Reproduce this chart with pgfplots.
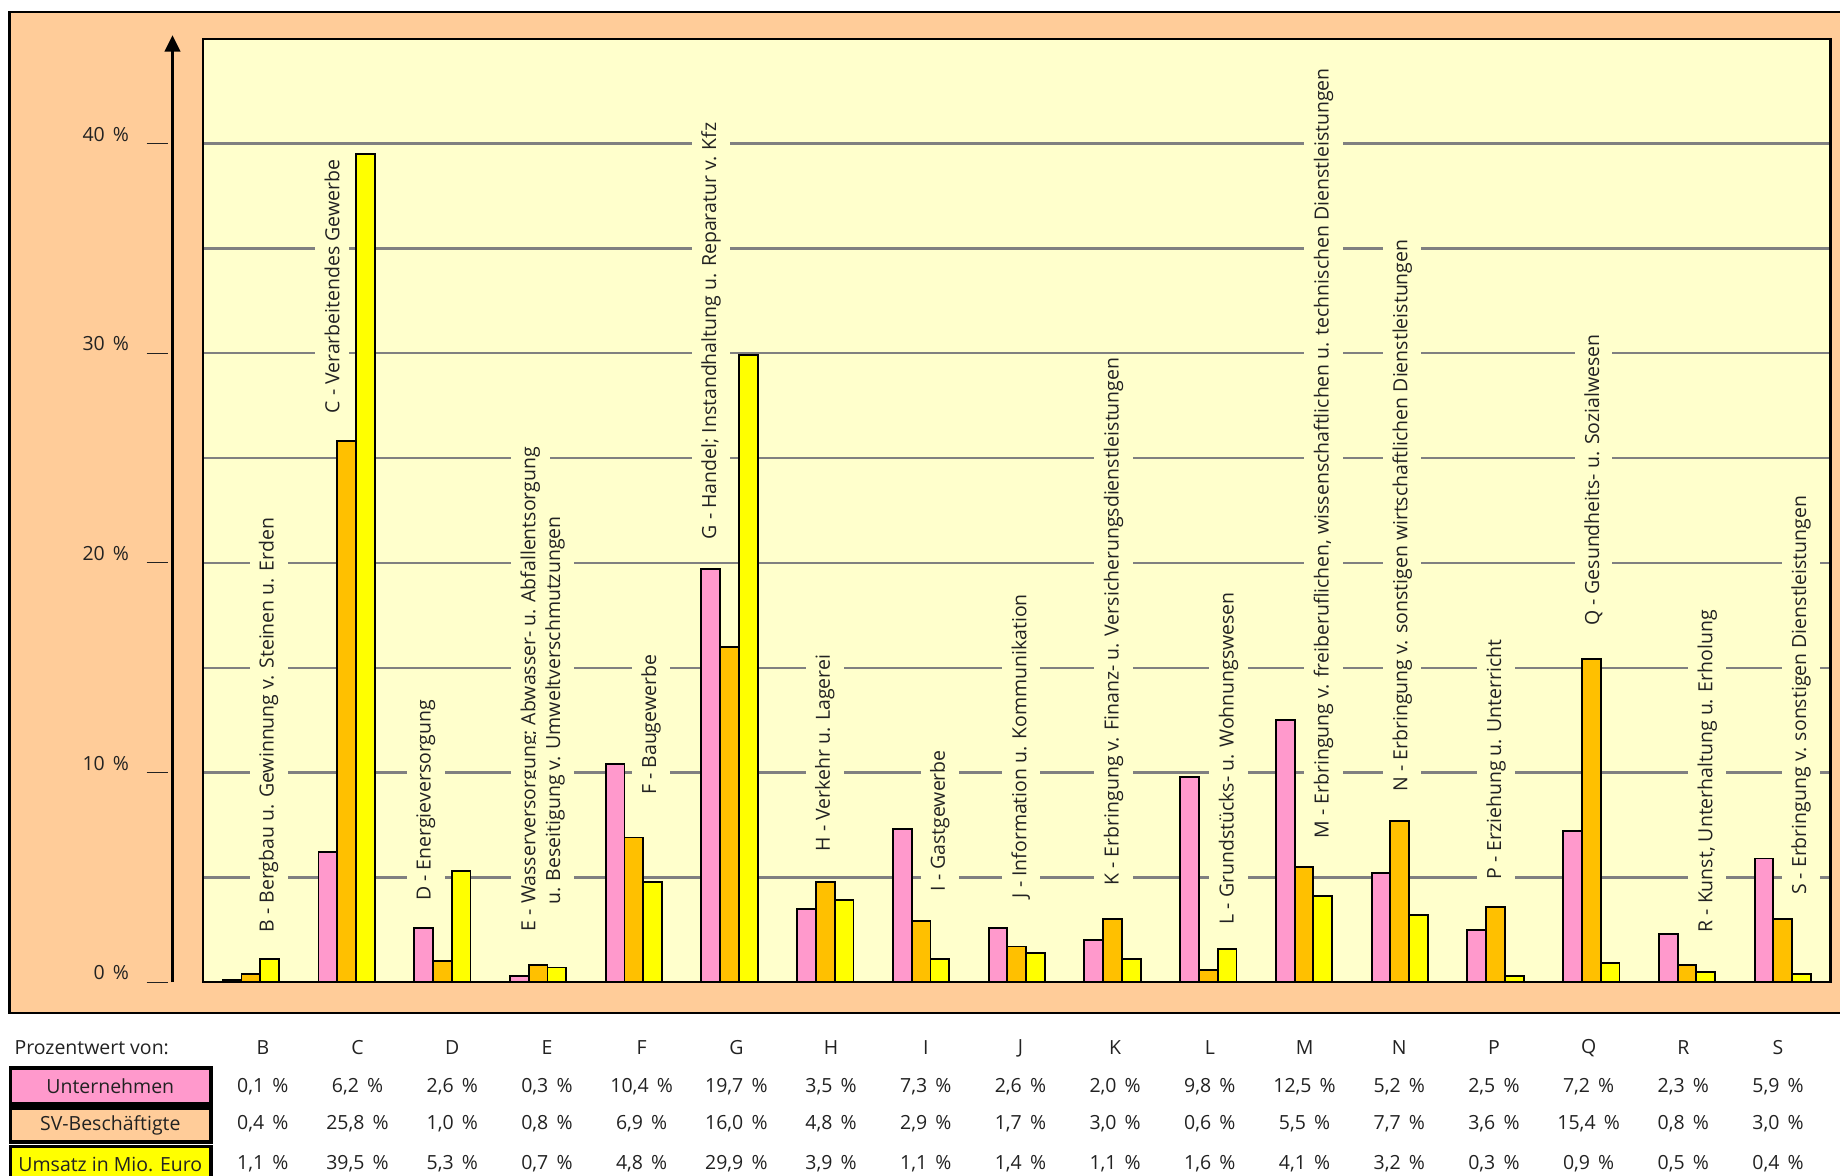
\documentclass[border=0pt]{standalone}
\usepackage{pgfplots}
\pgfplotsset{compat=1.18}
\usepackage{fontspec}
\setmainfont{Open Sans}
\usetikzlibrary{arrows.meta}
\definecolor{peach}{HTML}{FFCC99}
\definecolor{plotbg}{HTML}{FFFFCC}
\definecolor{cpink}{HTML}{FF99CC}
\definecolor{corange}{HTML}{FFC000}
\definecolor{cyellow}{HTML}{FFFF00}
\definecolor{txt}{HTML}{222222}
\definecolor{gridc}{HTML}{808080}
\newcommand\pc{\hspace{0.42em}\%}

\begin{document}
\begin{tikzpicture}[x=1pt,y=1pt, font=\fontsize{8.3}{10}\selectfont, text=txt]
\useasboundingbox (-86.5,-82.5) rectangle (697.5,418.5);
\fill[peach] (-82.5,-13) rectangle (700,413.5);
\draw[line width=1pt] (700,413.5) -- (-82.5,413.5) -- (-82.5,-13) -- (700,-13);
\tikzset{cl/.style={rotate=90, anchor=west, fill=plotbg, inner xsep=1pt, inner ysep=4pt, text=txt, font=\fontsize{8.3}{10}\selectfont}}
\begin{axis}[
 at={(0,0)}, anchor=south west, scale only axis,
 width=693.5pt, height=402pt,
 xmin=-0.5, xmax=16.5, ymin=0, ymax=45,
 axis background/.style={fill=plotbg},
 axis line style={line width=1pt, black},
 xtick=\empty, ytick={5,10,...,40}, yticklabels={}, major tick length=0pt,
 ytick style={draw=none},
 ymajorgrids, grid style={line width=1pt, color=gridc},
 ybar, bar width=8pt,
 clip=false,
]
\addplot[fill=cpink, draw=black, line width=0.8pt, bar shift=-8pt] coordinates {
(0,0.1) (1,6.2) (2,2.6) (3,0.3) (4,10.4) (5,19.7) (6,3.5) (7,7.3) (8,2.6)
(9,2.0) (10,9.8) (11,12.5) (12,5.2) (13,2.5) (14,7.2) (15,2.3) (16,5.9)};
\addplot[fill=corange, draw=black, line width=0.8pt, bar shift=0pt] coordinates {
(0,0.4) (1,25.8) (2,1.0) (3,0.8) (4,6.9) (5,16.0) (6,4.8) (7,2.9) (8,1.7)
(9,3.0) (10,0.6) (11,5.5) (12,7.7) (13,3.6) (14,15.4) (15,0.8) (16,3.0)};
\addplot[fill=cyellow, draw=black, line width=0.8pt, bar shift=8pt] coordinates {
(0,1.1) (1,39.5) (2,5.3) (3,0.7) (4,4.8) (5,29.9) (6,3.9) (7,1.1) (8,1.4)
(9,1.1) (10,1.6) (11,4.1) (12,3.2) (13,0.3) (14,0.9) (15,0.5) (16,0.4)};

\node[cl] at (axis cs:0.186,2.24) {B - Bergbau u. Gewinnung v. Steinen u. Erden};
\node[cl] at (axis cs:0.848,27.0) {C - Verarbeitendes Gewerbe};
\node[cl] at (axis cs:1.828,3.75) {D - Energieversorgung};
\node[cl] at (axis cs:2.919,2.30) {E - Wasserversorgung; Abwasser- u. Abfallentsorgung};
\node[cl] at (axis cs:3.176,3.55) {u. Beseitigung v. Umweltverschmutzungen};
\node[cl] at (axis cs:4.181,8.80) {F - Baugewerbe};
\node[cl] at (axis cs:4.806,21.0) {G - Handel; Instandhaltung u. Reparatur v. Kfz};
\node[cl] at (axis cs:5.995,6.11) {H - Verkehr u. Lagerei};
\node[cl] at (axis cs:7.196,4.20) {I - Gastgewerbe};
\node[cl] at (axis cs:8.042,3.87) {J - Information u. Kommunikation};
\node[cl] at (axis cs:9.010,4.48) {K - Erbringung v. Finanz- u. Versicherungsdienstleistungen};
\node[cl] at (axis cs:10.211,2.63) {L - Grundstücks- u. Wohnungswesen};
\node[cl] at (axis cs:11.204,6.72) {M - Erbringung v. freiberuflichen, wissenschaftlichen u. technischen Dienstleistungen};
\node[cl] at (axis cs:12.025,8.96) {N - Erbringung v. sonstigen wirtschaftlichen Dienstleistungen};
\node[cl] at (axis cs:13.005,4.76) {P - Erziehung u. Unterricht};
\node[cl] at (axis cs:14.022,16.86) {Q - Gesundheits- u. Sozialwesen};
\node[cl] at (axis cs:15.211,2.24) {R - Kunst, Unterhaltung u. Erholung};
\node[cl] at (axis cs:16.191,4.03) {S - Erbringung v. sonstigen Dienstleistungen};

% y axis arrow, ticks and labels
\draw[line width=1.5pt, -{Triangle[width=6.5pt,length=7pt]}] ([xshift=-13pt]axis cs:-0.5,0) -- ([xshift=-13pt]axis cs:-0.5,45.17);
\draw[line width=0.5pt, txt] ([xshift=-24pt]axis cs:-0.5,0) -- ([xshift=-15pt]axis cs:-0.5,0);
\draw[line width=0.5pt, txt] ([xshift=-24pt]axis cs:-0.5,10) -- ([xshift=-15pt]axis cs:-0.5,10);
\draw[line width=0.5pt, txt] ([xshift=-24pt]axis cs:-0.5,20) -- ([xshift=-15pt]axis cs:-0.5,20);
\draw[line width=0.5pt, txt] ([xshift=-24pt]axis cs:-0.5,30) -- ([xshift=-15pt]axis cs:-0.5,30);
\draw[line width=0.5pt, txt] ([xshift=-24pt]axis cs:-0.5,40) -- ([xshift=-15pt]axis cs:-0.5,40);
\node[anchor=base east, xshift=-28pt, yshift=1pt] at (axis cs:-0.5,0) {0\pc};
\node[anchor=base east, xshift=-28pt, yshift=1pt] at (axis cs:-0.5,10) {10\pc};
\node[anchor=base east, xshift=-28pt, yshift=1pt] at (axis cs:-0.5,20) {20\pc};
\node[anchor=base east, xshift=-28pt, yshift=1pt] at (axis cs:-0.5,30) {30\pc};
\node[anchor=base east, xshift=-28pt, yshift=1pt] at (axis cs:-0.5,40) {40\pc};
\end{axis}

% table below
\node[anchor=west, inner sep=0pt] at (-80.5,-28) {Prozentwert von:};
\foreach \l [count=\i from 0] in {B,C,D,E,F,G,H,I,J,K,L,M,N,P,Q,R,S}
  \node at (25.5+40.35*\i,-28) {\l};
\draw[fill=cpink, line width=1.5pt] (-82,-36.5) rectangle (3.5,-52);
\node at (-39.5,-44.3) {Unternehmen};
\draw[fill=peach, line width=1.5pt] (-82,-53.5) rectangle (3.5,-68);
\node at (-39.5,-60.8) {SV-Beschäftigte};
\draw[fill=cyellow, line width=1.5pt] (-82,-85) -- (-82,-70) -- (3.5,-70) -- (3.5,-85);
\node at (-39.5,-77.5) {Umsatz in Mio. Euro};
\foreach \v [count=\i from 0] in {{0,1},{6,2},{2,6},{0,3},{10,4},{19,7},{3,5},{7,3},{2,6},{2,0},{9,8},{12,5},{5,2},{2,5},{7,2},{2,3},{5,9}}
  \node at (25.5+40.35*\i,-44.5) {\v\pc};
\foreach \v [count=\i from 0] in {{0,4},{25,8},{1,0},{0,8},{6,9},{16,0},{4,8},{2,9},{1,7},{3,0},{0,6},{5,5},{7,7},{3,6},{15,4},{0,8},{3,0}}
  \node at (25.5+40.35*\i,-60.5) {\v\pc};
\foreach \v [count=\i from 0] in {{1,1},{39,5},{5,3},{0,7},{4,8},{29,9},{3,9},{1,1},{1,4},{1,1},{1,6},{4,1},{3,2},{0,3},{0,9},{0,5},{0,4}}
  \node at (25.5+40.35*\i,-77.5) {\v\pc};
\end{tikzpicture}
\end{document}
